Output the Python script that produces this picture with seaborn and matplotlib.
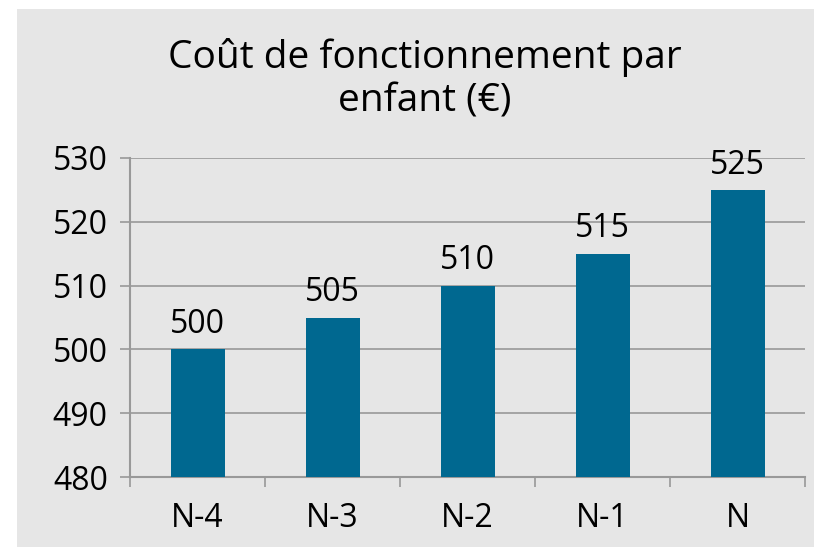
import numpy as np
import pandas as pd
import matplotlib
matplotlib.use("Agg")
import matplotlib.pyplot as plt
from matplotlib.patches import Rectangle
from matplotlib.ticker import FixedLocator
import seaborn as sns

# chart data
categories = ['N-4', 'N-3', 'N-2', 'N-1', 'N']
values = [500, 505, 510, 515, 525]
y_ticks = [480, 490, 500, 510, 520, 530]
title = 'Coût de fonctionnement par\nenfant (€)'

bg = '#e6e6e6'
bar_color = '#006890'
grid_color = '#999999'

sns.set_theme(style='white')
plt.rcParams['font.family'] = ['Open Sans', 'DejaVu Sans']

df = pd.DataFrame({'cat': categories, 'val': values})

fig = plt.figure(figsize=(8.14, 5.47), dpi=100)
fig.patch.set_facecolor('white')
fig.patches.append(Rectangle((17 / 814, 0), 1 - 17 / 814, 1 - 9 / 547,
                             transform=fig.transFigure, facecolor=bg,
                             edgecolor='none', zorder=-10))

ax = fig.add_axes([130 / 814, 1 - 477 / 547, (805 - 130) / 814, (477 - 158) / 547])
ax.set_facecolor(bg)
ax.set_zorder(5)

sns.barplot(data=df, x='cat', y='val', color=bar_color, width=0.4,
            saturation=1, ax=ax, zorder=3)
for p in ax.patches:
    p.set_edgecolor('none')
ax.set_ylim(480, 530)
ax.set_xlim(-0.5, len(categories) - 0.5)

fs = 23
ax.bar_label(ax.containers[0], labels=[str(v) for v in values],
             padding=6, fontsize=fs, color='black')

ax.set_yticks(y_ticks)
ax.set_yticklabels([str(t) for t in y_ticks], fontsize=fs)
ax.yaxis.grid(True, color=grid_color, linewidth=1.2, zorder=0)
ax.set_axisbelow(True)
ax.tick_params(axis='y', left=True, length=7, width=1.2, color=grid_color,
               pad=9, labelcolor='black')

ax.set_xticks(range(len(categories)))
ax.set_xticklabels(categories, fontsize=fs)
ax.xaxis.set_minor_locator(FixedLocator(np.arange(-0.5, len(categories), 1)))
ax.tick_params(axis='x', which='major', length=0, pad=18, labelcolor='black')
ax.tick_params(axis='x', which='minor', bottom=True, length=7, width=1.2,
               color=grid_color)

ax.set_xlabel('')
ax.set_ylabel('')
for side in ['top', 'right']:
    ax.spines[side].set_visible(False)
for side in ['left', 'bottom']:
    ax.spines[side].set_color(grid_color)
    ax.spines[side].set_linewidth(1.5)

fig.text(0.5215, 0.855, title, ha='center', va='center', fontsize=28,
         color='black', linespacing=1.2)

fig.savefig('out.png', dpi=100)
